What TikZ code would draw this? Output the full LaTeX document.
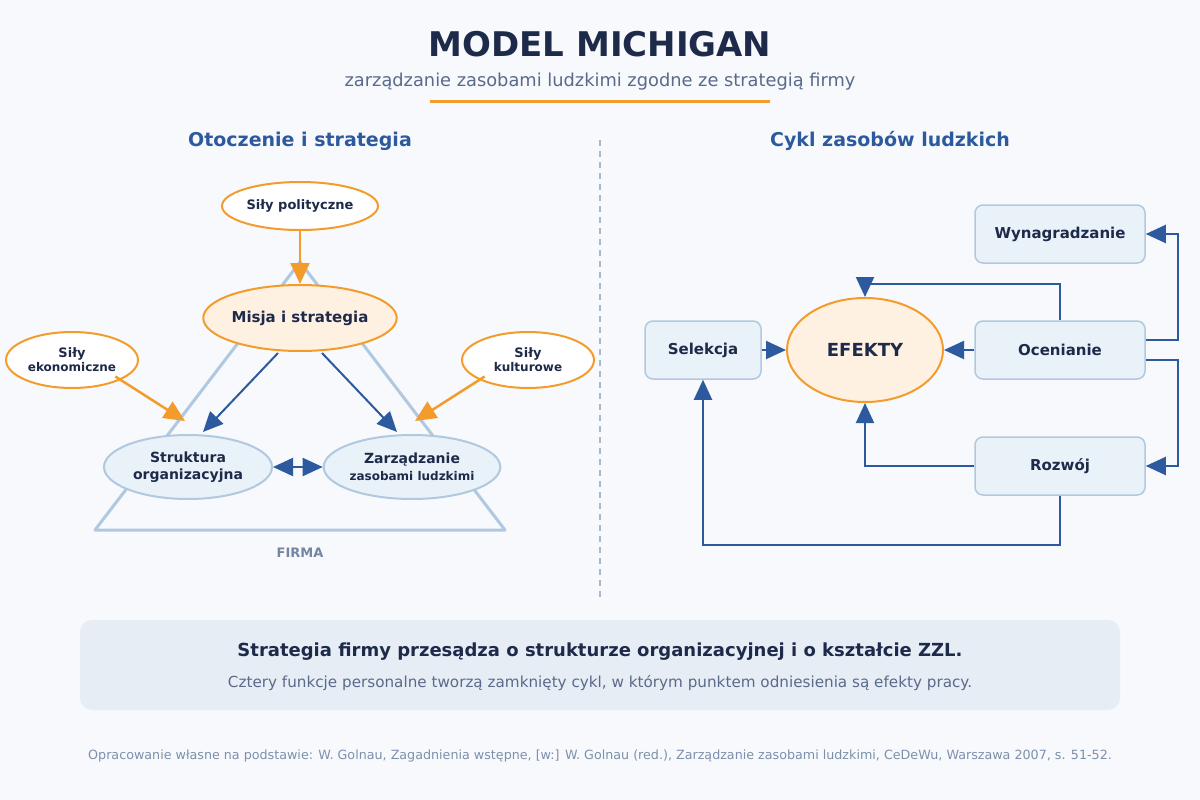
\documentclass[tikz,border=0pt]{standalone}
\usepackage{fontspec}
\setmainfont{DejaVu Sans}
\usetikzlibrary{arrows.meta,shapes.geometric,calc}
\definecolor{navy}{HTML}{1E2A4A}
\definecolor{sub}{HTML}{5A6A8A}
\definecolor{org}{HTML}{F39C2B}
\definecolor{blu}{HTML}{2D5A9E}
\definecolor{lbl}{HTML}{B0C8E0}
\definecolor{pale}{HTML}{EAF2F9}
\definecolor{cream}{HTML}{FFF1E2}
\definecolor{bg}{HTML}{F7F9FC}
\definecolor{sumbg}{HTML}{E7EDF5}
\begin{document}
\begin{tikzpicture}[x=1pt,y=-1pt,
  oell/.style={ellipse,draw=org,line width=2pt,fill=white,inner sep=0pt,text=navy,font=\bfseries\fontsize{13}{15}\selectfont,align=center},
  bell/.style={ellipse,draw=lbl,line width=2pt,fill=pale,inner sep=0pt,text=navy,font=\bfseries\fontsize{14}{17}\selectfont,align=center},
  box/.style={draw=lbl,line width=1.5pt,fill=pale,rounded corners=8pt,text=navy,font=\bfseries\fontsize{15}{18}\selectfont,minimum height=58pt},
  oarr/.style={draw=org,line width=2.5pt,-{Triangle[width=19pt,length=21pt]}},
  barr/.style={draw=blu,line width=2pt,-{Triangle[width=18pt,length=20pt]}},
  head/.style={text=blu,font=\bfseries\fontsize{19}{22}\selectfont}]
\fill[bg] (0,0) rectangle (1200,800);
\useasboundingbox (0,0) rectangle (1200,800);
\node[text=navy,font=\bfseries\fontsize{34}{38}\selectfont] (title) at (600,44) {MODEL MICHIGAN};
\node[text=sub,font=\fontsize{17.8}{20}\selectfont] (subt) at (600,82) {zarządzanie zasobami ludzkimi zgodne ze strategią firmy};
\draw[org,line width=3pt] (430,101) -- (770,101);
\node[head] (h1) at (300,141) {Otoczenie i strategia};
\node[head] (h2) at (890,141) {Cykl zasobów ludzkich};
\draw[lbl!80!gray,line width=1.5pt,dash pattern=on 6pt off 5pt] (600,140) -- (600,600);
% triangle
\draw[lbl,line width=3pt,line join=round] (300,262) -- (505,530) -- (95,530) -- cycle;
\node[text=sub!70!lbl,font=\bfseries\fontsize{13}{15}\selectfont] (firma) at (300,553) {FIRMA};
\node[oell,minimum width=156pt,minimum height=48pt] (pol) at (300,206) {Siły polityczne};
\node[oell,fill=cream,minimum width=190pt,minimum height=66pt,font=\bfseries\fontsize{15}{18}\selectfont] (mis) at (300,318) {Misja i strategia};
\node[oell,minimum width=132pt,minimum height=56pt] (eko) at (72,360) {Siły\\[-1pt]{\fontsize{12}{14}\selectfont ekonomiczne}};
\node[oell,minimum width=132pt,minimum height=56pt] (kul) at (528,360) {Siły\\[-1pt]{\fontsize{12}{14}\selectfont kulturowe}};
\node[bell,minimum width=168pt,minimum height=64pt] (str) at (188,467) {Struktura\\organizacyjna};
\node[bell,minimum width=168pt,minimum height=64pt] (zzl) at (412,467) {Zarządzanie\\{\fontsize{12}{15}\selectfont zasobami ludzkimi}};
\draw[oarr] (pol.south) -- (300,284);
\draw[oarr] (eko.south east) ++(-4,-4) -- (185,421);
\draw[oarr] (kul.south west) ++(4,-4) -- (415,421);
\draw[barr] ($(mis.south)+(-22,1)$) -- (203,432);
\draw[barr] ($(mis.south)+(22,1)$) -- (397,432);
\draw[draw=blu,line width=2pt,{Triangle[width=18pt,length=20pt]}-{Triangle[width=18pt,length=20pt]}] (str.east) -- (zzl.west);
% right
\node[box,minimum width=116pt] (sel) at (703,350) {Selekcja};
\node[oell,fill=cream,minimum width=156pt,minimum height=104pt,font=\bfseries\fontsize{18}{21}\selectfont] (ef) at (865,350) {EFEKTY};
\node[box,minimum width=170pt] (oce) at (1060,350) {Ocenianie};
\node[box,minimum width=170pt] (wyn) at (1060,234) {Wynagradzanie};
\node[box,minimum width=170pt] (roz) at (1060,466) {Rozwój};
\draw[barr] (sel.east) -- (ef.west);
\draw[barr] (oce.west) -- (ef.east);
\draw[barr] (oce.north) |- (865,284) -- (ef.north);
\draw[barr] (roz.west) -| (ef.south);
\draw[barr] (roz.south) |- (703,545) -- (sel.south);
\draw[barr] ($(oce.east)+(0,-10)$) -- (1178,340) |- (wyn.east);
\draw[barr] ($(oce.east)+(0,10)$) -- (1178,360) |- (roz.east);
% bottom
\node[fill=sumbg,rounded corners=12pt,minimum width=1040pt,minimum height=90pt] (sum) at (600,665) {};
\node[text=navy,font=\bfseries\fontsize{18}{21}\selectfont] (s1) at (600,652) {Strategia firmy przesądza o strukturze organizacyjnej i o kształcie ZZL.};
\node[text=sub,font=\fontsize{15.2}{18}\selectfont] (s2) at (600,683) {Cztery funkcje personalne tworzą zamknięty cykl, w którym punktem odniesienia są efekty pracy.};
\node[text=sub!60!lbl,font=\fontsize{12.7}{15}\selectfont] (foot) at (600,756) {Opracowanie własne na podstawie: W. Golnau, Zagadnienia wstępne, [w:] W. Golnau (red.), Zarządzanie zasobami ludzkimi, CeDeWu, Warszawa 2007, s. 51-52.};
\end{tikzpicture}
\end{document}
